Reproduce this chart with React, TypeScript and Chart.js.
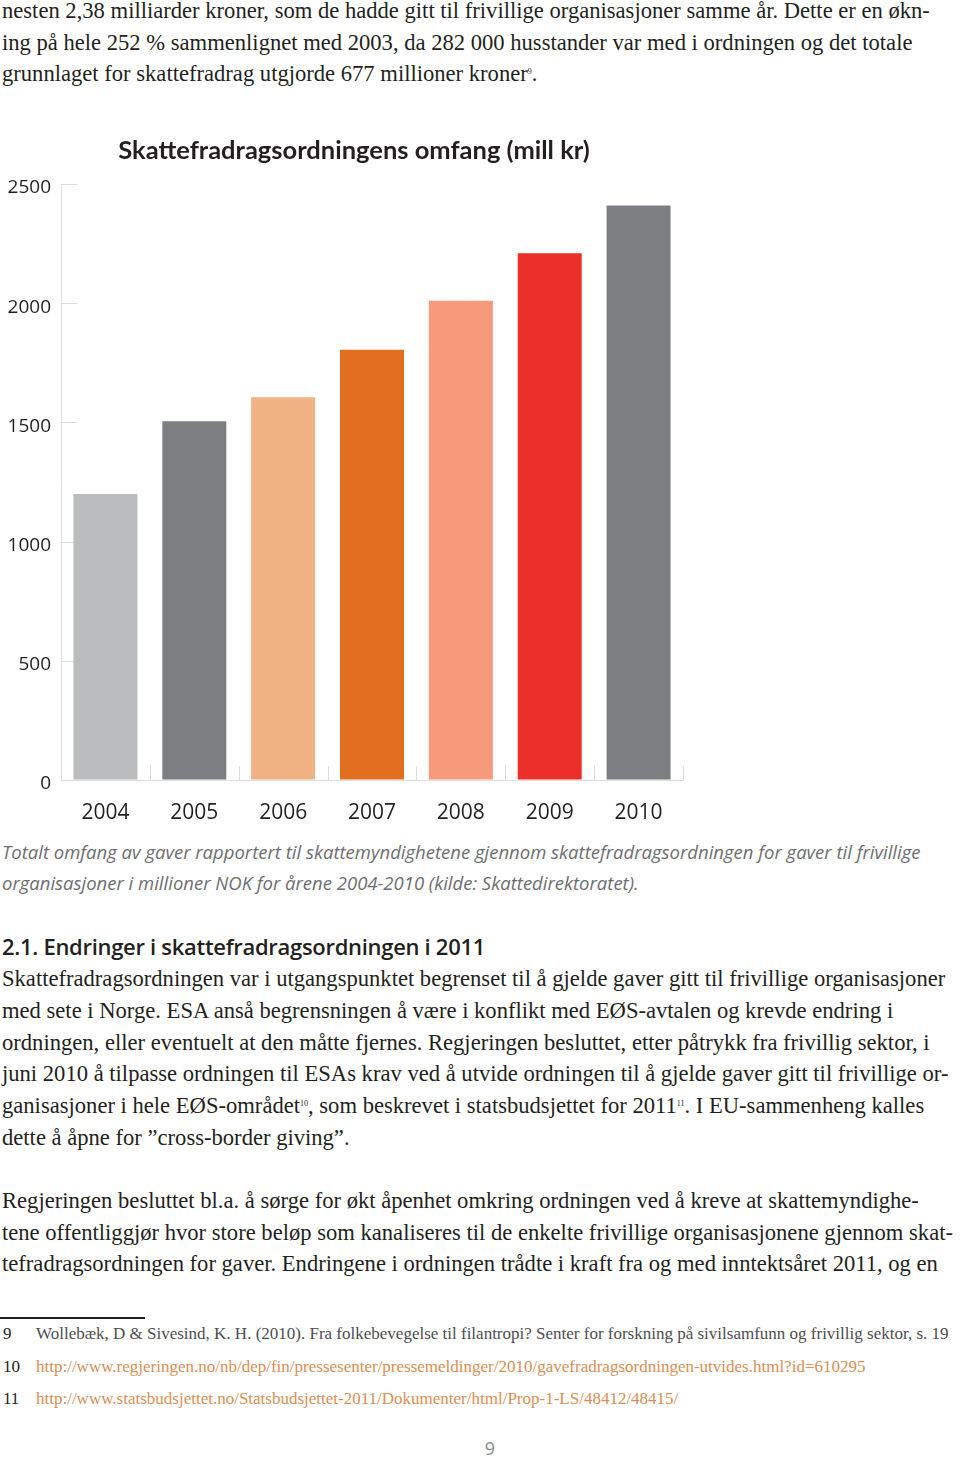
import React, { useEffect, useRef } from "react";
import { Chart, registerables } from "chart.js";
Chart.register(...registerables);

// ---- chart data ----
const years = ["2004", "2005", "2006", "2007", "2008", "2009", "2010"];
const amounts = [1200, 1505, 1605, 1805, 2010, 2210, 2410];
const barColors = ["#bbbcbe", "#7d7e82", "#f0b283", "#e26e20", "#f79a7c", "#ec2f28", "#7d7e82"];
const yMin = 0;
const yMax = 2500;
const yStep = 500;
const chartTitle = "Skattefradragsordningens omfang (mill kr)";

// ---- page text ----
const para1 = [
  ["nesten 2,38 milliarder kroner, som de hadde gitt til frivillige organisasjoner samme år. Dette er en økn-"],
  ["ing på hele 252 % sammenlignet med 2003, da 282 000 husstander var med i ordningen og det totale"],
  ["grunnlaget for skattefradrag utgjorde 677 millioner kroner", "9", "."],
];
const captionLines = [
  "Totalt omfang av gaver rapportert til skattemyndighetene gjennom skattefradragsordningen for gaver til frivillige",
  "organisasjoner i millioner NOK for årene 2004-2010 (kilde: Skattedirektoratet).",
];
const heading = "2.1. Endringer i skattefradragsordningen i 2011";
const para2 = [
  ["Skattefradragsordningen var i utgangspunktet begrenset til å gjelde gaver gitt til frivillige organisasjoner"],
  ["med sete i Norge. ESA anså begrensningen å være i konflikt med EØS-avtalen og krevde endring i"],
  ["ordningen, eller eventuelt at den måtte fjernes. Regjeringen besluttet, etter påtrykk fra frivillig sektor, i"],
  ["juni 2010 å tilpasse ordningen til ESAs krav ved å utvide ordningen til å gjelde gaver gitt til frivillige or-"],
  ["ganisasjoner i hele EØS-området", "10", ", som beskrevet i statsbudsjettet for 2011", "11", ". I EU-sammenheng kalles"],
  ["dette å åpne for ”cross-border giving”."],
];
const para3 = [
  ["Regjeringen besluttet bl.a. å sørge for økt åpenhet omkring ordningen ved å kreve at skattemyndighe-"],
  ["tene offentliggjør hvor store beløp som kanaliseres til de enkelte frivillige organisasjonene gjennom skat-"],
  ["tefradragsordningen for gaver. Endringene i ordningen trådte i kraft fra og med inntektsåret 2011, og en"],
];
const footnotes = [
  { n: "9", text: "Wollebæk, D & Sivesind, K. H. (2010). Fra folkebevegelse til filantropi? Senter for forskning på sivilsamfunn og frivillig sektor, s. 19", link: false },
  { n: "10", text: "http://www.regjeringen.no/nb/dep/fin/pressesenter/pressemeldinger/2010/gavefradragsordningen-utvides.html?id=610295", link: true },
  { n: "11", text: "http://www.statsbudsjettet.no/Statsbudsjettet-2011/Dokumenter/html/Prop-1-LS/48412/48415/", link: true },
];
const pageNumber = "9";

const SERIF = '"Liberation Serif", "DejaVu Serif", serif';
const SANS = '"Open Sans", "Noto Sans", sans-serif';
const TEXT = "#231f20";

function Line({ y, parts, size = 22.6, font = SERIF, style = {} as React.CSSProperties }) {
  const h = 30;
  return (
    <div
      style={{
        position: "absolute",
        left: 2,
        top: y - h / 2,
        height: h,
        lineHeight: h + "px",
        fontFamily: font,
        fontSize: size,
        color: TEXT,
        whiteSpace: "nowrap",
        ...style,
      }}
    >
      {parts.map((p, i) =>
        i % 2 === 1 ? (
          <sup key={i} style={{ fontSize: 8, verticalAlign: "7px", lineHeight: 0 }}>{p}</sup>
        ) : (
          <span key={i}>{p}</span>
        )
      )}
    </div>
  );
}

const innerTicks = {
  id: "innerTicks",
  beforeDatasetsDraw(chart: any) {
    const { ctx, chartArea, scales } = chart;
    const ys = scales.y;
    const xs = scales.x;
    ctx.save();
    ctx.strokeStyle = "#dedede";
    ctx.lineWidth = 1;
    ys.ticks.forEach((_t: any, i: number) => {
      const py = Math.round(ys.getPixelForTick(i)) + 0.5;
      ctx.beginPath();
      ctx.moveTo(chartArea.left, py);
      ctx.lineTo(chartArea.left + 16, py);
      ctx.stroke();
    });
    for (let i = 0; i <= years.length; i++) {
      const px = Math.round(xs.getPixelForValue(i - 0.5)) + 0.5;
      ctx.beginPath();
      ctx.moveTo(px, chartArea.bottom);
      ctx.lineTo(px, chartArea.bottom - 14);
      ctx.stroke();
    }
    ctx.restore();
  },
};

function BarChart() {
  const ref = useRef<HTMLCanvasElement>(null);
  useEffect(() => {
    if (!ref.current) return;
    const chart = new Chart(ref.current, {
      type: "bar",
      data: {
        labels: years,
        datasets: [
          {
            data: amounts,
            backgroundColor: barColors,
            borderWidth: 0,
            categoryPercentage: 0.72,
            barPercentage: 1,
          },
        ],
      },
      options: {
        responsive: false,
        animation: false,
        devicePixelRatio: 1,
        layout: { padding: 0 },
        plugins: {
          legend: { display: false },
          tooltip: { enabled: false },
          title: {
            display: true,
            text: chartTitle,
            color: TEXT,
            font: { family: '"Lato", "Open Sans", sans-serif', size: 25.5, weight: "bold", lineHeight: 1.2 },
            padding: { top: 15, bottom: 18.4 },
          },
        },
        scales: {
          x: {
            offset: true,
            grid: { display: false, drawTicks: false },
            border: { display: true, color: "#dedede" },
            ticks: { color: TEXT, font: { family: SANS, size: 21 }, padding: 20 },
            afterFit: (s: any) => {
              s.height = 52;
            },
          },
          y: {
            min: yMin,
            max: yMax,
            grid: { drawOnChartArea: false, drawTicks: false },
            border: { display: true, color: "#dedede" },
            ticks: {
              stepSize: yStep,
              color: TEXT,
              font: { family: SANS, size: 19 },
              padding: 10,
              labelOffset: 4,
              callback: (v: any) => String(v),
            },
            afterFit: (s: any) => {
              s.width = 61;
            },
          },
          yRightSpace: {
            type: "linear",
            position: "right",
            display: true,
            grid: { display: false, drawTicks: false },
            border: { display: false },
            ticks: { display: false },
            afterFit: (s: any) => {
              s.width = 25;
            },
          },
        },
      },
      plugins: [innerTicks],
    });
    return () => chart.destroy();
  }, []);
  return <canvas ref={ref} width={708} height={712} style={{ position: "absolute", left: 0, top: 120 }} />;
}

export default function App() {
  useEffect(() => {
    document.body.style.margin = "0";
  }, []);
  return (
    <div style={{ position: "absolute", left: 0, top: 0, width: 960, height: 1459, background: "#fff", overflow: "hidden" }}>
      {para1.map((p, i) => (
        <Line key={"a" + i} y={11 + i * 31.6} parts={p} />
      ))}
      <BarChart />
      {captionLines.map((t, i) => (
        <Line
          key={"c" + i}
          y={852 + i * 31}
          parts={[t]}
          font={'"Liberation Sans Narrow", "Open Sans", sans-serif'}
          size={18.5}
          style={{ fontStyle: "italic", color: "#6d6e71" }}
        />
      ))}
      <Line y={946} parts={[heading]} font={SANS} size={22} style={{ fontWeight: 600, letterSpacing: "-0.3px" }} />
      {para2.map((p, i) => (
        <Line key={"b" + i} y={979 + i * 31.8} parts={p} />
      ))}
      {para3.map((p, i) => (
        <Line key={"d" + i} y={1201 + i * 31.6} parts={p} />
      ))}
      <div style={{ position: "absolute", left: 0, top: 1317, width: 145, height: 2, background: "#231f20" }} />
      {footnotes.map((f, i) => (
        <div
          key={"f" + i}
          style={{
            position: "absolute",
            left: 0,
            top: 1334 + i * 32.5 - 12,
            height: 24,
            lineHeight: "24px",
            fontFamily: SERIF,
            fontSize: 17,
            whiteSpace: "nowrap",
            color: TEXT,
          }}
        >
          <span style={{ position: "absolute", left: 3 }}>{f.n}</span>
          <span style={{ position: "absolute", left: 36, color: f.link ? "#d98f55" : "#4d4d4f" }}>{f.text}</span>
        </div>
      ))}
      <div
        style={{
          position: "absolute",
          left: 470,
          width: 40,
          textAlign: "center",
          top: 1436,
          lineHeight: "24px",
          fontFamily: SANS,
          fontSize: 18,
          color: "#8a8a8c",
        }}
      >
        {pageNumber}
      </div>
    </div>
  );
}
